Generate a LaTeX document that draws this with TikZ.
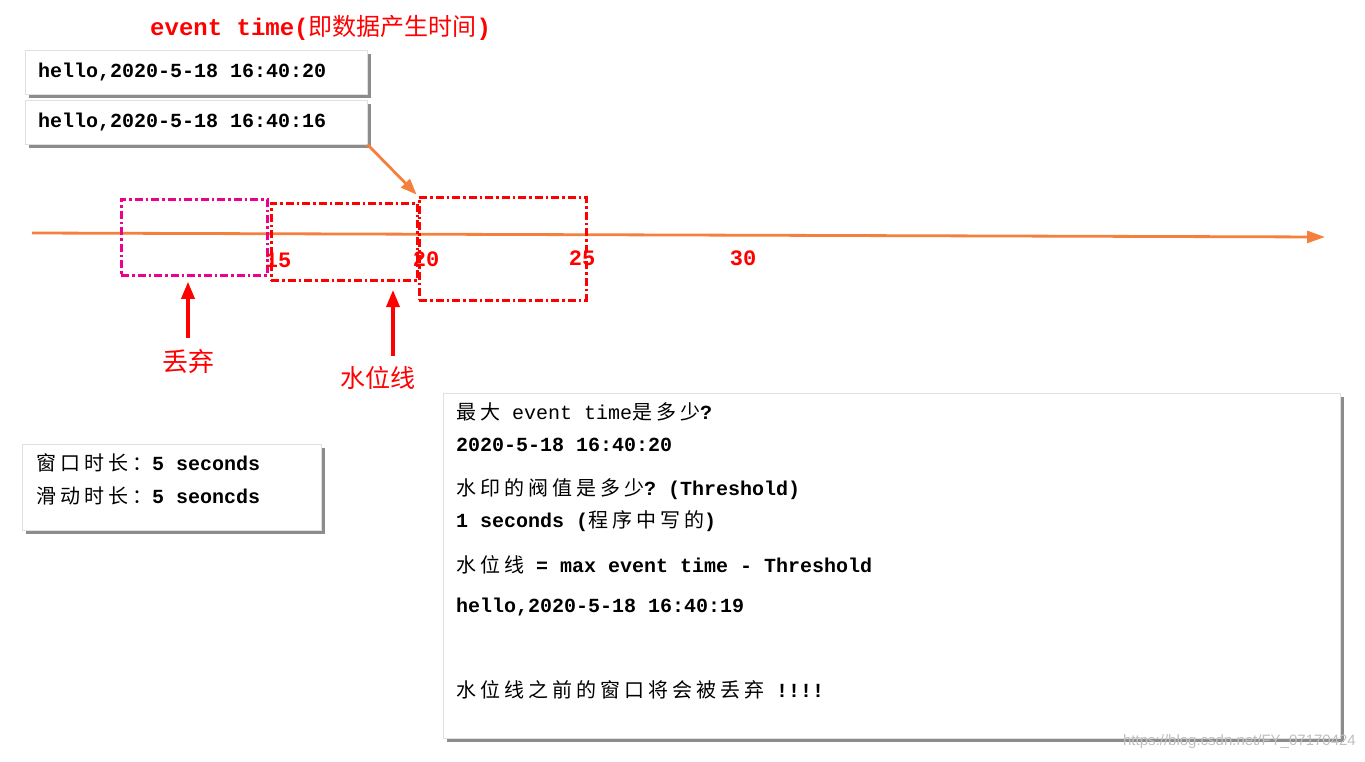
\documentclass[tikz,border=0pt]{standalone}
\usepackage{fontspec}
\setmainfont{Liberation Sans}
\setmonofont{Liberation Mono}
\newfontfamily\cjk[LetterSpace=20]{Noto Sans CJK SC}
\newfontfamily\cjkt{Noto Sans CJK SC}
\usepackage{xcolor}
\usetikzlibrary{positioning,arrows.meta,shadows}

\definecolor{axisorange}{RGB}{245,128,62}
\newcommand{\zh}[1]{{\cjk\mdseries #1}}

\begin{document}
\begin{tikzpicture}[
          x=1pt, y=-1pt,
          card/.style={draw=black!12, fill=white, anchor=north west, inner sep=0pt,
                       drop shadow={shadow xshift=3.5pt, shadow yshift=-3.5pt, opacity=.75, fill=black!60}},
          mono/.style={font=\fontsize{20}{24}\selectfont\ttfamily\bfseries, anchor=west, inner sep=0pt},
          win/.style={line width=2.8pt, dash pattern=on 8pt off 3pt on 2.5pt off 3pt,
                      anchor=north west, inner sep=0pt},
          tick/.style={text=red, font=\fontsize{22}{24}\selectfont\ttfamily\bfseries, inner sep=0pt},
          redlbl/.style={text=red, font=\fontsize{26}{28}\selectfont\cjkt, inner sep=0pt},
          orangeline/.style={draw=axisorange, line width=2.8pt},
          redarrow/.style={draw=red, line width=3.4pt, -{Triangle[length=17pt,width=13pt]}}
      ]
        \useasboundingbox (0,0) rectangle (1365,761);
        % title and the two events
        \node[anchor=west, inner sep=0pt, text=red, font=\fontsize{24}{26}\selectfont\ttfamily\bfseries]
            (title) at (150,28) {event time({\cjkt\mdseries 即数据产生时间})};
        \node[card, minimum width=342pt, minimum height=44pt] (ev1) at (25,50) {};
        \node[mono, right=13pt of ev1.west] (ev1t) {hello,2020-5-18 16:40:20};
        \node[card, minimum width=342pt, minimum height=44pt] (ev2) at (25,100) {};
        \node[mono, right=13pt of ev2.west] (ev2t) {hello,2020-5-18 16:40:16};
        % time axis
        \coordinate (axs) at (32,233);
        \coordinate (axe) at (1325,237);
        \draw[orangeline, -{Triangle[length=18pt,width=12pt]}] (axs) -- (axe);
        % windows
        \node[win, draw=magenta, minimum width=146pt, minimum height=76pt] (w10) at (120,198) {};
        \node[win, draw=red, minimum width=146pt, minimum height=77pt] (w15) at (270,202) {};
        \node[win, draw=red, minimum width=167pt, minimum height=103pt] (w20) at (418,196) {};
        \node[tick] (t15) at (278,260) {15};
        \node[tick] (t20) at (426,259) {20};
        \node[tick] (t25) at (582,258) {25};
        \node[tick] (t30) at (743,258) {30};
        \draw[orangeline, -{Triangle[length=16pt,width=12pt]}, shorten >=2pt] (ev2.south east) -- (w20.north west);
        % labels below the axis
        \node[redlbl] (drop) at (188,362) {丢弃};
        \node[redlbl, font=\fontsize{25}{27}\selectfont\cjkt] (wmark) at (378,378) {水位线};
        \coordinate (wmtip) at (393,290);
        \draw[redarrow, shorten <=12pt, shorten >=5pt] (drop.north) -- (drop.north |- w10.south);
        \draw[redarrow, shorten <=10pt] (wmtip |- wmark.north) -- (wmtip);
        % window settings
        \node[card, minimum width=299pt, minimum height=86pt] (cfg) at (22,444) {};
        \node[mono] (cfg1) at (36,463) {\zh{窗口时长：}5 seconds};
        \node[mono] (cfg2) at (36,496) {\zh{滑动时长：}5 seoncds};
        % explanation
        \node[card, minimum width=897pt, minimum height=345pt] (info) at (443,393) {};
        \node[mono] (q1) at (456,412) {\zh{最大} {\mdseries event time}\zh{是多少}?};
        \node[mono] (a1) at (456,445) {2020-5-18 16:40:20};
        \node[mono] (q2) at (456,489) {\zh{水印的阀值是多少}? (Threshold)};
        \node[mono] (a2) at (456,521) {1 seconds (\zh{程序中写的})};
        \node[mono] (fml) at (456,565) {\zh{水位线} = max event time - Threshold};
        \node[mono] (ex) at (456,607) {hello,2020-5-18 16:40:19};
        \node[mono] (note) at (456,690) {\zh{水位线之前的窗口将会被丢弃} !!!!};
        \node[anchor=east, inner sep=0pt, text=black!25, font=\fontsize{15}{17}\selectfont]
            (wm) at (1356,742) {https://blog.csdn.net/FY\_07170424};
      \end{tikzpicture}
\end{document}
